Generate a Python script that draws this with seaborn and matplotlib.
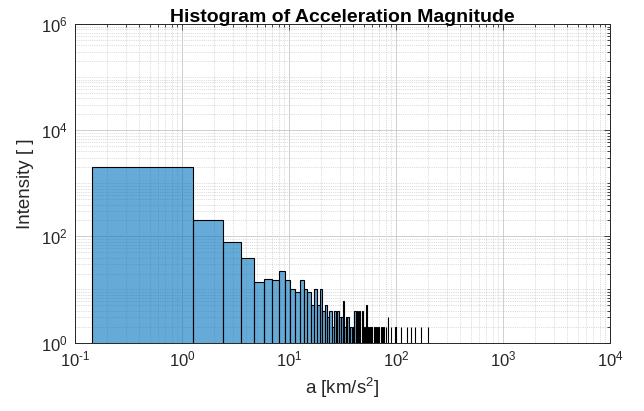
import numpy as np
import pandas as pd
import matplotlib
matplotlib.use("Agg")
import matplotlib.pyplot as plt
import seaborn as sns
from matplotlib.ticker import LogLocator, NullFormatter, FuncFormatter

# ---------------- data ----------------
bin_start = 0.144
bin_width = 1.13
n_bins = 177

bin_index = [0, 1, 2, 3, 4, 5, 6, 7, 8, 9, 10, 11, 12, 13, 14, 15, 16, 17, 18, 19,
             20, 21, 22, 23, 24, 25, 26, 27, 28, 29, 30, 31, 32, 33, 34, 35, 36, 37,
             38, 39, 40, 41, 42, 43, 44, 45, 46, 47, 48, 49, 50, 51, 52, 54, 55, 57,
             58, 60, 62, 64, 67, 69, 71, 74, 76, 79, 83, 87, 92, 98, 105, 112, 118,
             122, 133, 140, 151, 165, 176]
bin_count = [2050, 205, 80, 40, 14, 16, 15, 22, 15, 10, 9, 15, 10, 9, 5, 10, 5, 10, 4, 5,
             3, 4, 2, 4, 3, 4, 3, 3, 6, 2, 3, 3, 1, 2, 1, 2, 4, 1,
             4, 2, 4, 1, 4, 2, 1, 2, 5, 2, 1, 2, 2, 1, 2, 1, 2, 1,
             2, 2, 1, 2, 2, 1, 2, 3, 1, 2, 1, 2, 1, 2, 1, 2, 1,
             2, 2, 1, 2, 1, 2]

title = "Histogram of Acceleration Magnitude"
xlabel = "a [km/s$^2$]"
ylabel = "Intensity [ ]"

edges = [float(e) for e in bin_start + bin_width * np.arange(n_bins + 1)]
centers = bin_start + bin_width * (np.array(bin_index) + 0.5)
df = pd.DataFrame({"a": centers, "count": bin_count})

# ---------------- style ----------------
sns.set_style("white")
plt.rcParams["font.family"] = ["Liberation Sans", "DejaVu Sans"]
plt.rcParams["mathtext.fontset"] = "custom"
plt.rcParams["mathtext.rm"] = "Liberation Sans"
plt.rcParams["mathtext.it"] = "Liberation Sans:italic"
plt.rcParams["mathtext.bf"] = "Liberation Sans:bold"
plt.rcParams["mathtext.default"] = "regular"
plt.rcParams["axes.unicode_minus"] = False

txt = "#262626"
fig = plt.figure(figsize=(6.44, 4.11), dpi=100)
ax = fig.add_axes([75 / 644, 1 - 342.5 / 411, (610 - 75) / 644, (342.5 - 24.3) / 411])

sns.histplot(data=df, x="a", weights="count", bins=edges, ax=ax,
             color=(0.0, 0.447, 0.741), alpha=0.6, edgecolor="black",
             linewidth=0.8, zorder=3)

ax.set_xscale("log")
ax.set_yscale("log")
ax.set_xlim(1e-1, 1e4)
ax.set_ylim(1e0, 1e6)


def pow_fmt(v, _):
    e = int(round(np.log10(v)))
    s = str(e).replace("-", r"\text{-}")
    return "10$^{" + s + "}$"


ax.xaxis.set_major_locator(LogLocator(base=10, numticks=10))
ax.xaxis.set_minor_locator(LogLocator(base=10, subs=np.arange(2, 10), numticks=20))
ax.set_yticks([1e0, 1e2, 1e4, 1e6])
ax.yaxis.set_minor_locator(LogLocator(base=10, subs=np.arange(1, 10), numticks=20))
ax.xaxis.set_major_formatter(FuncFormatter(pow_fmt))
ax.yaxis.set_major_formatter(FuncFormatter(pow_fmt))
ax.xaxis.set_minor_formatter(NullFormatter())
ax.yaxis.set_minor_formatter(NullFormatter())

ax.grid(True, which="major", color="#c8c8c8", linewidth=0.6, linestyle="-", zorder=0)
ax.grid(True, which="minor", color="#bdbdbd", linewidth=0.5, linestyle=":", zorder=0)
ax.set_axisbelow(True)

ax.tick_params(which="both", direction="in", top=True, right=True, colors=txt,
               labelsize=12, width=0.6)
ax.tick_params(which="major", length=4)
ax.tick_params(which="minor", length=2)
ax.tick_params(axis="x", pad=5)
ax.tick_params(axis="y", pad=5)
for s in ax.spines.values():
    s.set_color(txt)
    s.set_linewidth(0.7)
    s.set_visible(True)

ax.set_title(title, fontsize=14, fontweight="bold", color="black", pad=2)
ax.set_xlabel(xlabel, fontsize=13.5, color=txt, labelpad=5)
ax.set_ylabel(ylabel, fontsize=13.5, color=txt, labelpad=5)

fig.savefig("out.png", dpi=100)
